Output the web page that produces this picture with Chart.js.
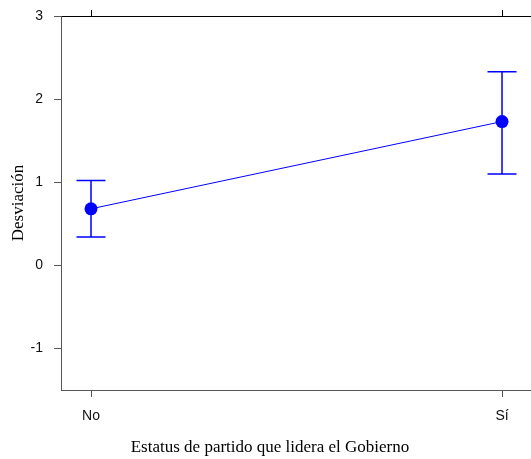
<!DOCTYPE html>
<html>
<head>
<meta charset="utf-8">
<script src="https://cdn.jsdelivr.net/npm/chart.js@4/dist/chart.umd.min.js"></script>
<style>
  html, body { margin: 0; padding: 0; background: #fff; overflow: hidden; }
  #wrap { width: 531px; height: 459px; overflow: hidden; position: relative; }
  canvas { display: block; }
</style>
</head>
<body>
<div id="wrap"><canvas id="c" width="540" height="459"></canvas></div>
<script>
const categories = ['No', 'Sí'];
const categoryPositions = [0, 1];
const means = [0.68, 1.73];
const lowerCI = [0.34, 1.10];
const upperCI = [1.02, 2.33];
const yTicks = [-1, 0, 1, 2, 3];

const BLUE = '#0000FF';
const AXIS = '#555555';

const points = categoryPositions.map((x, i) => ({ x: x, y: means[i] }));

const errorBars = {
  id: 'errorBars',
  beforeDatasetsDraw(chart) {
    const ctx = chart.ctx;
    const xs = chart.scales.x, ys = chart.scales.y;
    ctx.save();
    ctx.strokeStyle = BLUE;
    ctx.lineWidth = 1.5;
    categoryPositions.forEach((v, i) => {
      const px = xs.getPixelForValue(v);
      const yl = ys.getPixelForValue(lowerCI[i]);
      const yu = ys.getPixelForValue(upperCI[i]);
      const half = 14.5;
      ctx.beginPath();
      ctx.moveTo(px, yl); ctx.lineTo(px, yu);
      ctx.moveTo(px - half, yl); ctx.lineTo(px + half, yl);
      ctx.moveTo(px - half, yu); ctx.lineTo(px + half, yu);
      ctx.stroke();
    });
    ctx.restore();
  }
};

const xMin = -0.073, xMax = 1.0766;
const catTicks = (scale) => { scale.ticks = categoryPositions.map(v => ({ value: v })); };

new Chart(document.getElementById('c'), {
  type: 'line',
  data: {
    datasets: [{
      data: points,
      borderColor: BLUE,
      borderWidth: 1,
      backgroundColor: BLUE,
      pointBackgroundColor: BLUE,
      pointBorderColor: BLUE,
      pointRadius: 6.5,
      pointBorderWidth: 0,
      tension: 0
    }]
  },
  options: {
    responsive: false,
    animation: false,
    devicePixelRatio: 1,
    layout: { padding: 0 },
    plugins: {
      legend: { display: false },
      tooltip: { enabled: false },
      title: {
        display: true,
        position: 'bottom',
        text: 'Estatus de partido que lidera el Gobierno',
        color: '#000',
        font: { family: 'Liberation Serif', size: 17, weight: 'normal' },
        padding: { top: 0, bottom: 1 }
      }
    },
    scales: {
      x: {
        type: 'linear',
        position: 'bottom',
        min: xMin, max: xMax,
        afterBuildTicks: catTicks,
        afterFit: (s) => { s.height = 47.6; },
        grid: { display: true, drawOnChartArea: false, drawTicks: true, tickLength: 7, color: AXIS, tickColor: AXIS },
        border: { display: true, color: AXIS, width: 1 },
        ticks: {
          color: '#111',
          font: { family: 'Liberation Sans', size: 14 },
          padding: 11,
          maxRotation: 0,
          callback: (v) => categories[categoryPositions.indexOf(v)] ?? ''
        }
      },
      x2: {
        type: 'linear',
        position: 'top',
        min: xMin, max: xMax,
        afterBuildTicks: catTicks,
        afterFit: (s) => { s.height = 16; },
        grid: { display: true, drawOnChartArea: false, drawTicks: true, tickLength: 6, color: '#000', tickColor: '#000' },
        border: { display: true, color: '#000', width: 1 },
        ticks: { display: false }
      },
      y: {
        type: 'linear',
        position: 'left',
        min: -1.5, max: 3,
        afterBuildTicks: (s) => { s.ticks = yTicks.map(v => ({ value: v })); },
        afterFit: (s) => { s.width = 61; s.paddingTop = 0; s.paddingBottom = 0; },
        grid: { display: true, drawOnChartArea: false, drawTicks: true, tickLength: 7, color: AXIS, tickColor: AXIS },
        border: { display: true, color: AXIS, width: 1 },
        ticks: {
          color: '#111',
          font: { family: 'Liberation Sans', size: 14 },
          padding: 11,
          callback: (v) => String(v)
        },
        title: {
          display: true,
          text: 'Desviación',
          color: '#000',
          font: { family: 'Liberation Serif', size: 17, weight: 'normal' },
          padding: { top: 8, bottom: 0 }
        }
      }
    }
  },
  plugins: [errorBars]
});
</script>
</body>
</html>
